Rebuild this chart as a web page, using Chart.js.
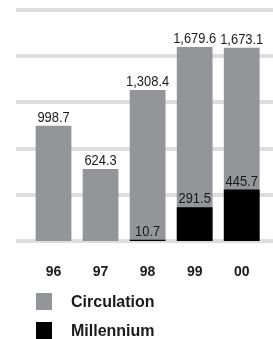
<!DOCTYPE html>
<html>
<head>
<meta charset="utf-8">
<script src="https://cdn.jsdelivr.net/npm/chart.js@4.4.1/dist/chart.umd.min.js"></script>
<style>
  html, body { margin: 0; padding: 0; background: #fff; }
  #wrap { width: 273px; height: 339px; position: relative; }
</style>
</head>
<body>
<div id="wrap"><canvas id="chart"></canvas></div>
<script>
// ── Data ──
const years       = ['96', '97', '98', '99', '00'];
const circulation = [998.7, 624.3, 1308.4, 1679.6, 1673.1];
const millennium  = [null, null, 10.7, 291.5, 445.7];
const gridValues  = [0, 400, 800, 1200, 1600, 2000];

const GRAY  = '#939598';
const BLACK = '#000000';
const GRID  = '#dddddd';
const INK   = '#1a1a1a';
const SANS  = '"Liberation Sans", Arial, sans-serif';

const fmt = v => v.toLocaleString('en-US', { minimumFractionDigits: 1, maximumFractionDigits: 1 });

// thick gridlines running the full width
const gridPlugin = {
  id: 'thickGrid',
  beforeDatasetsDraw(chart) {
    const { ctx } = chart;
    const y = chart.scales.y;
    ctx.save();
    ctx.fillStyle = GRID;
    gridValues.forEach(v => {
      const py = y.getPixelForValue(v);
      ctx.fillRect(16, Math.round(py) - 2, 257, 4);
    });
    ctx.restore();
  }
};

// value labels on top of the bars (condensed like the print)
const labelPlugin = {
  id: 'valueLabels',
  afterDatasetsDraw(chart) {
    const { ctx } = chart;
    chart.data.datasets.forEach((ds, i) => {
      const meta = chart.getDatasetMeta(i);
      meta.data.forEach((bar, j) => {
        const v = ds.data[j];
        if (v == null) return;
        ctx.save();
        ctx.font = '15px ' + SANS;
        ctx.fillStyle = INK;
        ctx.textAlign = 'center';
        ctx.textBaseline = 'alphabetic';
        ctx.translate(bar.x, bar.y - 4);
        ctx.scale(0.86, 1);
        ctx.fillText(fmt(v), 0, 0);
        ctx.restore();
      });
    });
  }
};

// vertical legend under the axis
const legendPlugin = {
  id: 'stackLegend',
  afterDraw(chart) {
    const { ctx } = chart;
    const items = [
      { text: 'Circulation', color: GRAY, y: 293 },
      { text: 'Millennium',  color: BLACK, y: 322 }
    ];
    ctx.save();
    ctx.font = 'bold 16px ' + SANS;
    ctx.textBaseline = 'middle';
    ctx.textAlign = 'left';
    items.forEach(it => {
      ctx.fillStyle = it.color;
      ctx.fillRect(36, it.y, 16, 17);
      ctx.fillStyle = INK;
      ctx.fillText(it.text, 71, it.y + 10);
    });
    ctx.restore();
  }
};

new Chart(document.getElementById('chart'), {
  type: 'bar',
  data: {
    labels: years,
    datasets: [
      { label: 'Circulation', data: circulation, backgroundColor: GRAY, order: 1 },
      { label: 'Millennium',  data: millennium,  backgroundColor: BLACK, order: 0 }
    ]
  },
  options: {
    responsive: true,
    maintainAspectRatio: false,
    animation: false,
    layout: { padding: { left: 30, right: 5, top: 10, bottom: 58 } },
    datasets: { bar: { categoryPercentage: 1, barPercentage: 0.76, borderWidth: 0 } },
    scales: {
      x: {
        stacked: true,
        grid: { display: false, drawTicks: false },
        border: { display: false },
        ticks: { color: INK, maxRotation: 0, font: { family: SANS, size: 14, weight: 'bold' }, padding: 23 },
        afterFit(scale) { scale.height = 40; }
      },
      y: {
        display: false,
        stacked: false,
        min: 0, max: 2000
      }
    },
    plugins: { legend: { display: false }, tooltip: { enabled: false } }
  },
  plugins: [gridPlugin, labelPlugin, legendPlugin]
});
</script>
</body>
</html>
